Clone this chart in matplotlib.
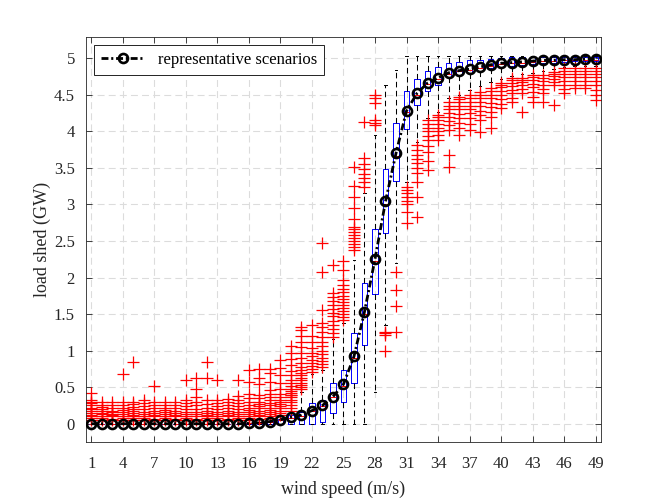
import numpy as np
import matplotlib.pyplot as plt

plt.rcParams['font.family'] = ['Liberation Serif', 'DejaVu Serif']
plt.rcParams['lines.scale_dashes'] = False

# wind speed index (m/s)
wind = list(range(1, 50))

# representative scenarios (GW)
rep = [0, 0, 0, 0, 0, 0, 0, 0, 0, 0,
       0, 0, 0, 0, 0, 0.005, 0.015, 0.03, 0.055, 0.09,
       0.12, 0.18, 0.25, 0.37, 0.54, 0.92, 1.53, 2.25, 3.04, 3.70,
       4.28, 4.52, 4.66, 4.73, 4.80, 4.83, 4.85, 4.88, 4.91, 4.93,
       4.94, 4.95, 4.96, 4.97, 4.97, 4.98, 4.98, 4.99, 4.99]

# box statistics
med = [0, 0, 0, 0, 0, 0, 0, 0, 0, 0,
       0, 0, 0, 0, 0, 0.005, 0.015, 0.03, 0.05, 0.08,
       0.11, 0.17, 0.24, 0.36, 0.52, 0.9, 1.5, 2.22, 3.0, 3.66,
       4.26, 4.5, 4.65, 4.72, 4.79, 4.82, 4.84, 4.87, 4.9, 4.92,
       4.93, 4.94, 4.95, 4.96, 4.96, 4.97, 4.97, 4.98, 4.98]
q1 = [0, 0, 0, 0, 0, 0, 0, 0, 0, 0,
      0, 0, 0, 0, 0, 0, 0, 0, 0, 0,
      0, 0, 0.03, 0.15, 0.3, 0.56, 1.08, 1.77, 2.61, 3.32,
      4.03, 4.36, 4.55, 4.63, 4.74, 4.77, 4.8, 4.83, 4.86, 4.88,
      4.9, 4.91, 4.92, 4.93, 4.94, 4.95, 4.955, 4.96, 4.965]
q3 = [0, 0, 0, 0, 0, 0, 0, 0, 0, 0,
      0, 0, 0, 0, 0, 0.005, 0.02, 0.04, 0.07, 0.12,
      0.16, 0.29, 0.33, 0.56, 0.73, 1.24, 1.93, 2.67, 3.48, 4.12,
      4.55, 4.72, 4.82, 4.88, 4.93, 4.95, 4.97, 4.98, 4.99, 5.0,
      5.01, 5.01, 5.01, 5.01, 5.01, 5.01, 5.01, 5.01, 5.01]
whislo = [0] * 27 + [0.43, 1.35, 2.2,
                     3.3, 3.85, 4.18, 4.26, 4.45, 4.5, 4.56, 4.62, 4.68, 4.72,
                     4.76, 4.79, 4.8, 4.83, 4.85, 4.88, 4.89, 4.9, 4.9]
whishi = [0, 0, 0, 0, 0, 0, 0, 0, 0, 0,
          0, 0, 0, 0, 0, 0.005, 0.02, 0.04, 0.07, 0.16,
          0.44, 0.68, 0.74, 1.16, 1.38, 2.24, 3.15, 3.95, 4.63, 4.84] + [5.03] * 19

# outliers per wind speed
outliers = [
    [0.05, 0.08, 0.1, 0.12, 0.15, 0.17, 0.2, 0.22, 0.25, 0.28, 0.3, 0.33, 0.42],
    [0.05, 0.08, 0.1, 0.13, 0.15, 0.18, 0.2, 0.23, 0.26, 0.3],
    [0.05, 0.07, 0.1, 0.12, 0.14, 0.16, 0.18, 0.21, 0.25, 0.3],
    [0.05, 0.08, 0.1, 0.13, 0.16, 0.19, 0.22, 0.25, 0.3, 0.68],
    [0.05, 0.08, 0.1, 0.12, 0.15, 0.17, 0.2, 0.23, 0.27, 0.3, 0.84],
    [0.05, 0.08, 0.1, 0.13, 0.16, 0.2, 0.24, 0.28, 0.32],
    [0.05, 0.07, 0.1, 0.12, 0.15, 0.18, 0.21, 0.25, 0.3, 0.52],
    [0.05, 0.08, 0.1, 0.13, 0.16, 0.19, 0.22, 0.26, 0.3],
    [0.05, 0.07, 0.1, 0.12, 0.15, 0.18, 0.22, 0.26, 0.3],
    [0.05, 0.08, 0.1, 0.13, 0.16, 0.2, 0.24, 0.28, 0.33, 0.6],
    [0.05, 0.07, 0.1, 0.13, 0.16, 0.2, 0.25, 0.3, 0.37, 0.48, 0.63],
    [0.05, 0.08, 0.1, 0.12, 0.15, 0.18, 0.22, 0.27, 0.32, 0.63, 0.84],
    [0.05, 0.08, 0.1, 0.13, 0.16, 0.2, 0.24, 0.28, 0.33, 0.6],
    [0.05, 0.07, 0.1, 0.12, 0.15, 0.18, 0.21, 0.25, 0.3, 0.34],
    [0.05, 0.08, 0.1, 0.13, 0.16, 0.2, 0.24, 0.28, 0.33, 0.38, 0.6],
    [0.05, 0.08, 0.1, 0.13, 0.16, 0.19, 0.22, 0.26, 0.3, 0.35, 0.41, 0.57, 0.73],
    [0.07, 0.1, 0.12, 0.15, 0.18, 0.21, 0.24, 0.27, 0.3, 0.35, 0.4, 0.54, 0.63, 0.75],
    [0.08, 0.1, 0.13, 0.16, 0.19, 0.22, 0.25, 0.28, 0.32, 0.36, 0.41, 0.46, 0.57, 0.69, 0.75],
    [0.12, 0.15, 0.18, 0.21, 0.24, 0.27, 0.3, 0.33, 0.37, 0.41, 0.47, 0.56, 0.67, 0.76, 0.87],
    [0.18, 0.22, 0.26, 0.3, 0.33, 0.36, 0.39, 0.4, 0.42, 0.45, 0.48, 0.52, 0.56, 0.6,
     0.66, 0.72, 0.8, 0.88, 0.97, 1.06],
    [0.47, 0.5, 0.53, 0.56, 0.6, 0.63, 0.66, 0.7, 0.74, 0.78, 0.83, 0.9, 0.97, 1.05,
     1.12, 1.2, 1.28, 1.33],
    [0.71, 0.75, 0.79, 0.83, 0.87, 0.92, 0.97, 1.04, 1.12, 1.2, 1.35],
    [0.78, 0.82, 0.86, 0.9, 0.95, 1.0, 1.06, 1.12, 1.19, 1.25, 1.32, 1.38, 1.55, 2.07, 2.47],
    [1.19, 1.24, 1.3, 1.35, 1.41, 1.47, 1.52, 1.57, 1.62, 1.68, 1.74, 1.79, 2.17],
    [1.42, 1.46, 1.5, 1.54, 1.58, 1.62, 1.66, 1.7, 1.75, 1.8, 1.84, 1.9, 1.97, 2.1, 2.22],
    [2.38, 2.42, 2.46, 2.5, 2.54, 2.58, 2.62, 2.66, 2.69, 2.8, 2.95, 3.1, 3.25, 3.51],
    [3.24, 3.3, 3.36, 3.42, 3.48, 3.55, 3.63, 4.13],
    [4.08, 4.12, 4.15, 4.39, 4.45, 4.5],
    [0.99, 1.22, 1.24, 1.26],
    [1.26, 1.61, 1.83, 2.08],
    [2.75, 2.9, 3.0, 3.05, 3.1, 3.15, 3.2, 3.24],
    [2.83, 3.1, 3.3, 3.43, 3.5, 3.56, 3.62, 3.68, 3.74, 3.81],
    [3.47, 3.6, 3.72, 3.8, 3.88, 3.94, 4.0, 4.05, 4.1, 4.15],
    [3.88, 3.95, 4.0, 4.05, 4.1, 4.15, 4.19, 4.22],
    [3.51, 3.67, 4.02, 4.08, 4.14, 4.2, 4.25, 4.3, 4.35, 4.4],
    [3.95, 4.05, 4.12, 4.18, 4.24, 4.3, 4.35, 4.4, 4.44, 4.47],
    [4.02, 4.1, 4.18, 4.25, 4.3, 4.35, 4.4, 4.45, 4.49],
    [3.99, 4.15, 4.22, 4.28, 4.34, 4.4, 4.45, 4.5, 4.54],
    [4.04, 4.2, 4.27, 4.33, 4.39, 4.45, 4.5, 4.55, 4.59],
    [4.32, 4.38, 4.44, 4.5, 4.55, 4.6, 4.63, 4.66],
    [4.4, 4.46, 4.52, 4.57, 4.62, 4.66, 4.7, 4.73],
    [4.27, 4.52, 4.58, 4.63, 4.67, 4.7, 4.73],
    [4.4, 4.47, 4.54, 4.6, 4.65, 4.7, 4.74, 4.77],
    [4.4, 4.52, 4.58, 4.64, 4.69, 4.73, 4.77],
    [4.36, 4.63, 4.68, 4.72, 4.76, 4.79, 4.81],
    [4.52, 4.58, 4.64, 4.69, 4.74, 4.78, 4.82, 4.86],
    [4.59, 4.64, 4.69, 4.74, 4.78, 4.82, 4.86],
    [4.59, 4.64, 4.69, 4.74, 4.78, 4.82, 4.86],
    [4.43, 4.5, 4.57, 4.63, 4.69, 4.74, 4.79, 4.83, 4.86],
]

stats = []
for i in range(len(wind)):
    stats.append({'med': med[i], 'q1': q1[i], 'q3': q3[i],
                  'whislo': whislo[i], 'whishi': whishi[i],
                  'fliers': np.array(outliers[i])})

fig = plt.figure(figsize=(6.64, 4.98), dpi=100)
ax = fig.add_axes([0.1295, 0.1124, 0.7755, 0.8133])

ax.bxp(stats, positions=wind, widths=0.5, capwidths=0.25,
       boxprops=dict(color='blue', linewidth=0.7),
       whiskerprops=dict(color='black', linestyle=(0, (4, 2.5)), linewidth=0.75),
       capprops=dict(color='black', linewidth=0.7),
       medianprops=dict(color='red', linewidth=0.7),
       flierprops=dict(marker='+', markeredgecolor='red', markersize=8,
                       markeredgewidth=0.9, linestyle='none'))

ax.plot(wind, rep, color='black', linestyle=(0, (5, 2, 1.5, 2)), linewidth=2,
        marker='o', markersize=6.5, markerfacecolor='none',
        markeredgewidth=1.9, label='representative scenarios', zorder=5)

ax.set_xlim(0.5, 49.5)
ax.set_ylim(-0.25, 5.29)
ax.set_xticks(range(1, 50, 3))
ax.set_xticklabels([str(v) for v in range(1, 50, 3)])
ax.set_yticks(np.arange(0, 5.01, 0.5))
ax.set_yticklabels(['0', '0.5', '1', '1.5', '2', '2.5', '3', '3.5', '4', '4.5', '5'])

ax.grid(True, linestyle=(0, (5, 3)), color='#dcdcdc', linewidth=0.8)
ax.set_axisbelow(True)
ax.tick_params(direction='in', top=True, right=True, labelsize=12,
               colors='#262626', length=4, width=0.6)
ax.tick_params(axis='x', pad=10)
ax.tick_params(axis='y', pad=8)
for s in ax.spines.values():
    s.set_color('#262626')
    s.set_linewidth(0.6)

ax.set_xlabel('wind speed (m/s)', fontsize=13, color='#262626', labelpad=6)
ax.set_ylabel('load shed (GW)', fontsize=13, color='#262626', labelpad=2)

leg = ax.legend(loc='upper left', fontsize=12, fancybox=False,
                edgecolor='black', framealpha=1, handlelength=2.6,
                borderaxespad=0.5)
leg.get_frame().set_linewidth(0.6)

fig.savefig('out.png', dpi=100)
